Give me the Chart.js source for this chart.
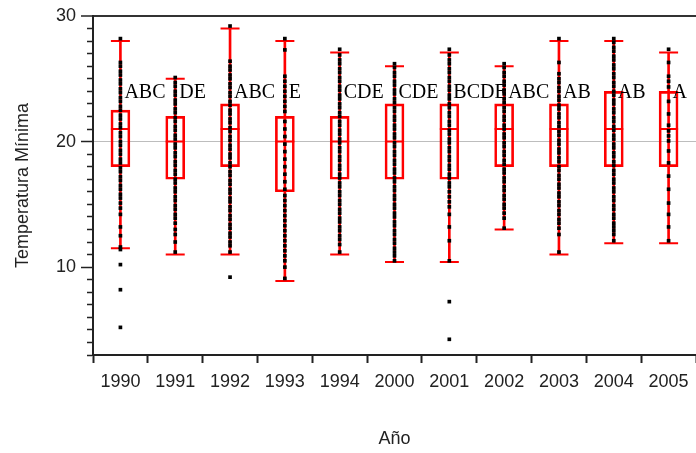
<!DOCTYPE html>
<html>
<head>
<meta charset="utf-8">
<script src="https://cdn.jsdelivr.net/npm/chart.js@4.4.1/dist/chart.umd.min.js"></script>
<style>
  html, body { margin: 0; padding: 0; background: #fff; }
  #cajas { display: block; }
</style>
</head>
<body>
<canvas id="cajas" width="696" height="453"></canvas>
<script>
// Años y resumen de cada caja
const years = ['1990', '1991', '1992', '1993', '1994', '2000', '2001', '2002', '2003', '2004', '2005'];
const lowWhisker  = [11.5, 11, 11, 8.9, 11, 10.4, 10.4, 13, 11, 11.9, 11.9];
const q1          = [18, 17, 18, 16, 17, 17, 17, 18, 18, 18, 18];
const medians     = [21, 20, 21, 20, 20, 20, 21, 21, 21, 21, 21];
const q3          = [22.5, 22, 23, 22, 22, 23, 23, 23, 23, 24, 24];
const highWhisker = [28, 25, 29, 28, 27.1, 26, 27.1, 26, 28, 28, 27.1];
const letters     = ['ABC', 'DE', 'ABC', 'E', 'CDE', 'CDE', 'BCDE', 'ABC', 'AB', 'AB', 'A'];
const letterLevel = 23.9;

// Observaciones individuales (puntos negros), una lista por año
const dotValues = [
    [28.2, 26.3, 26.0, 25.6, 25.3, 24.9, 24.6, 24.2, 23.9, 23.5, 23.2, 22.8, 22.5, 22.1, 21.8, 21.4, 21.1, 20.7, 20.4, 20.0,
     19.7, 19.3, 19.0, 18.6, 18.3, 17.9, 17.6, 17.2, 16.9, 16.5, 16.2, 15.8, 15.5, 15.1, 14.7, 14.2, 13.2, 12.5, 11.6, 11.4, 10.2, 8.2, 5.2],
    [25.1, 24.7, 24.4, 24.0, 23.7, 23.3, 23.0, 22.6, 22.3, 21.9, 21.6, 21.2, 20.9, 20.5, 20.2, 19.8, 19.5, 19.1, 18.8, 18.4,
     18.1, 17.7, 17.4, 17.0, 16.7, 16.3, 16.0, 15.6, 15.3, 14.9, 14.6, 14.2, 13.9, 13.5, 13.0, 12.6, 12.0, 11.2],
    [29.2, 26.4, 26.0, 25.7, 25.3, 25.0, 24.6, 24.3, 23.9, 23.6, 23.2, 22.9, 22.5, 22.2, 21.8, 21.5, 21.1, 20.8, 20.4, 20.1,
     19.7, 19.4, 19.0, 18.7, 18.3, 18.0, 17.6, 17.3, 16.9, 16.6, 16.2, 15.9, 15.5, 15.2, 14.8, 14.5, 14.1, 13.8, 13.4, 13.1,
     12.7, 12.4, 12.0, 11.7, 11.2, 9.2],
    [28.2, 27.3, 25.2, 24.8, 24.4, 24.0, 23.6, 23.2, 22.8, 22.4, 21.6, 21.0, 20.4, 19.8, 19.2, 18.6, 18.0, 17.4, 16.8, 16.2,
     15.7, 15.3, 14.9, 14.5, 14.1, 13.7, 13.3, 12.9, 12.5, 12.1, 11.7, 11.3, 10.9, 10.5, 10.0, 9.1],
    [27.35, 26.9, 26.5, 26.2, 25.8, 25.5, 25.1, 24.8, 24.4, 24.1, 23.7, 23.4, 23.0, 22.7, 22.3, 22.0, 21.6, 21.3, 20.9, 20.6,
     20.2, 19.9, 19.5, 19.2, 18.8, 18.5, 18.1, 17.8, 17.4, 17.1, 16.7, 16.4, 16.0, 15.7, 15.3, 15.0, 14.6, 14.3, 13.9, 13.6,
     13.2, 12.9, 12.5, 12.2, 11.8, 11.2],
    [26.2, 25.9, 25.5, 25.2, 24.8, 24.5, 24.1, 23.8, 23.4, 23.1, 22.7, 22.4, 22.0, 21.7, 21.3, 21.0, 20.6, 20.3, 19.9, 19.6,
     19.2, 18.9, 18.5, 18.2, 17.8, 17.5, 17.1, 16.8, 16.4, 16.1, 15.7, 15.4, 15.0, 14.7, 14.3, 14.0, 13.6, 13.3, 12.9, 12.6,
     12.2, 11.9, 11.5, 11.2, 10.9, 10.5],
    [27.35, 26.9, 26.5, 26.2, 25.8, 25.5, 25.1, 24.8, 24.4, 24.1, 23.7, 23.4, 23.0, 22.7, 22.3, 22.0, 21.6, 21.3, 20.9, 20.6,
     20.2, 19.9, 19.5, 19.2, 18.8, 18.5, 18.1, 17.8, 17.4, 17.1, 16.7, 16.4, 16.0, 15.6, 15.2, 14.8, 14.2, 13.2, 12.1, 10.5,
     7.25, 4.25],
    [26.2, 25.9, 25.5, 25.2, 24.8, 24.5, 24.1, 23.8, 23.4, 23.1, 22.7, 22.4, 22.0, 21.7, 21.3, 21.0, 20.6, 20.3, 19.9, 19.6,
     19.2, 18.9, 18.5, 18.2, 17.8, 17.5, 17.1, 16.8, 16.4, 16.1, 15.7, 15.4, 15.0, 14.7, 14.3, 13.9, 13.1],
    [28.2, 26.3, 25.4, 25.0, 24.7, 24.3, 24.0, 23.6, 23.3, 22.9, 22.6, 22.2, 21.9, 21.5, 21.2, 20.8, 20.5, 20.1, 19.8, 19.4,
     19.1, 18.7, 18.4, 18.0, 17.7, 17.3, 17.0, 16.6, 16.3, 15.9, 15.6, 15.2, 14.9, 14.5, 14.2, 13.8, 13.5, 13.1, 12.6, 11.2],
    [28.2, 27.9, 27.5, 27.2, 26.8, 26.5, 26.1, 25.8, 25.4, 25.1, 24.7, 24.4, 24.0, 23.7, 23.3, 23.0, 22.6, 22.3, 21.9, 21.6,
     21.2, 20.9, 20.5, 20.2, 19.8, 19.5, 19.1, 18.8, 18.4, 18.1, 17.7, 17.4, 17.0, 16.7, 16.3, 16.0, 15.6, 15.3, 14.9, 14.6,
     14.2, 13.9, 13.5, 13.2, 12.9, 12.6, 12.1],
    [27.35, 26.3, 25.2, 24.8, 24.35, 23.2, 22.2, 21.3, 20.85, 20.45, 20.05, 19.25, 18.3, 17.25, 16.2, 15.1, 14.2, 13.2, 12.1]
];

const RED = '#ff0000';
const INK = '#222222';
const sansFont = '"Liberation Sans", Arial, sans-serif';

// puntos {x: año, y: valor}
const dotPoints = [];
dotValues.forEach((vals, i) => vals.forEach(v => dotPoints.push({ x: years[i], y: v })));

// letras de agrupación a la derecha de cada caja
const lettersPlugin = {
    id: 'letras',
    afterDatasetsDraw(chart) {
        const { ctx, scales: { x, y } } = chart;
        ctx.save();
        ctx.font = '20px "Liberation Serif", "Times New Roman", serif';
        ctx.fillStyle = '#000';
        ctx.textAlign = 'left';
        ctx.textBaseline = 'middle';
        letters.forEach((txt, i) => {
            ctx.fillText(txt, x.getPixelForValue(i) + 4, y.getPixelForValue(letterLevel));
        });
        ctx.restore();
    }
};

const data = {
    labels: years,
    datasets: [
        {
            type: 'line',
            label: 'Observaciones',
            data: dotPoints,
            showLine: false,
            pointStyle: 'rect',
            pointRadius: 2.6,
            pointBackgroundColor: '#000',
            pointBorderWidth: 0,
            order: 0
        },
        {
            type: 'line',
            label: 'Mediana',
            data: medians,
            showLine: false,
            pointStyle: 'line',
            pointRadius: 9.5,
            pointBorderColor: RED,
            pointBorderWidth: 2,
            order: 1
        },
        {
            type: 'line',
            label: 'Máximo',
            data: highWhisker,
            showLine: false,
            pointStyle: 'line',
            pointRadius: 9.5,
            pointBorderColor: RED,
            pointBorderWidth: 2,
            order: 2
        },
        {
            type: 'line',
            label: 'Mínimo',
            data: lowWhisker,
            showLine: false,
            pointStyle: 'line',
            pointRadius: 9.5,
            pointBorderColor: RED,
            pointBorderWidth: 2,
            order: 2
        },
        {
            type: 'bar',
            label: 'Caja',
            data: years.map((_, i) => [q1[i], q3[i]]),
            backgroundColor: 'rgba(0,0,0,0)',
            borderColor: RED,
            borderWidth: 2,
            borderSkipped: false,
            barThickness: 19,
            grouped: false,
            order: 3
        },
        {
            type: 'bar',
            label: 'Bigote',
            data: years.map((_, i) => [lowWhisker[i], highWhisker[i]]),
            backgroundColor: RED,
            borderWidth: 0,
            barThickness: 2,
            grouped: false,
            order: 4
        }
    ]
};

const config = {
    type: 'bar',
    data: data,
    plugins: [lettersPlugin],
    options: {
        responsive: false,
        animation: false,
        events: [],
        layout: { autoPadding: false, padding: { top: 16, right: 0, bottom: 0, left: 0 } },
        plugins: {
            legend: { display: false },
            tooltip: { enabled: false }
        },
        scales: {
            x: {
                type: 'category',
                offset: true,
                grid: {
                    offset: true,
                    drawOnChartArea: false,
                    tickLength: 8,
                    tickColor: INK,
                    tickWidth: 2
                },
                border: { color: INK, width: 2 },
                ticks: {
                    color: INK,
                    font: { family: sansFont, size: 18 },
                    padding: 8,
                    maxRotation: 0,
                    autoSkip: false
                },
                title: {
                    display: true,
                    text: 'Año',
                    color: INK,
                    font: { family: sansFont, size: 18 },
                    padding: { top: 0, bottom: 3 }
                },
                afterFit: (scale) => {
                    scale.height = 98;
                    scale.paddingLeft = 0;
                    scale.paddingRight = 0;
                }
            },
            y: {
                min: 3,
                max: 30,
                grid: {
                    color: (c) => c.tick && c.tick.value === 30 ? '#333' : (c.tick && c.tick.value === 20 ? '#bdbdbd' : 'rgba(0,0,0,0)'),
                    lineWidth: (c) => c.tick && c.tick.value === 30 ? 2 : 1,
                    tickLength: 12,
                    tickColor: INK,
                    tickWidth: 1.5,
                    tickBorderDash: (c) => c.tick && c.tick.value % 10 === 0 ? [] : [0, 6, 8, 0]
                },
                border: { color: INK, width: 2 },
                ticks: {
                    stepSize: 1,
                    autoSkip: false,
                    maxTicksLimit: 60,
                    padding: 5,
                    color: INK,
                    font: { family: sansFont, size: 18 },
                    callback: (v) => (v % 10 === 0 ? v : '')
                },
                title: {
                    display: true,
                    text: 'Temperatura Mínima',
                    color: INK,
                    font: { family: sansFont, size: 18 },
                    padding: { top: 12, bottom: 0 }
                },
                afterFit: (scale) => { scale.width = 93; }
            }
        }
    }
};

const boxChart = new Chart(document.getElementById('cajas').getContext('2d'), config);
</script>
</body>
</html>
